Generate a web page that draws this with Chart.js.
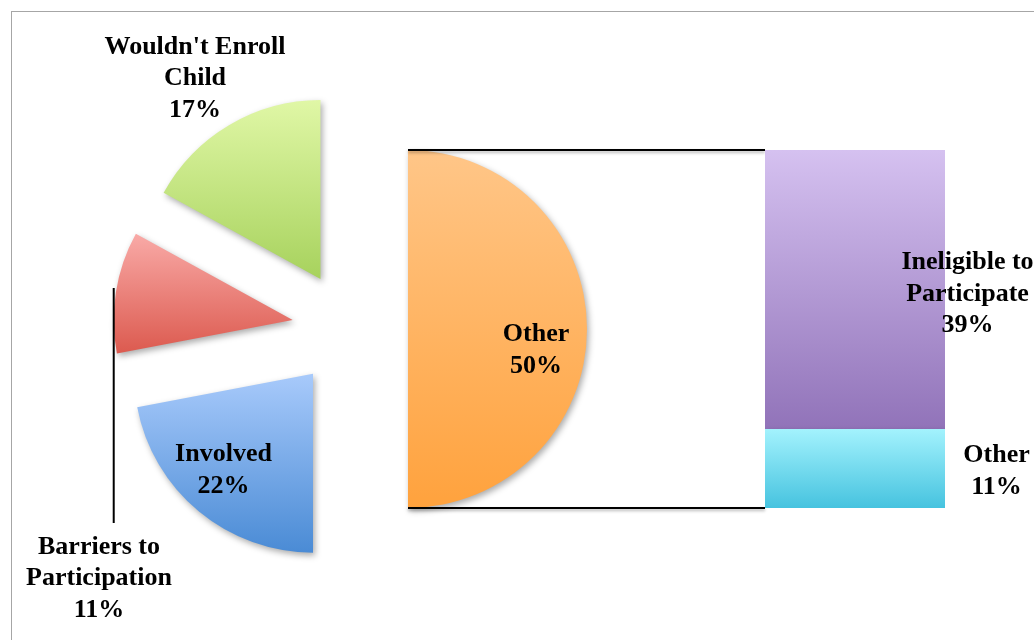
<!DOCTYPE html>
<html>
<head>
<meta charset="utf-8">
<script src="https://cdn.jsdelivr.net/npm/chart.js@4.4.1/dist/chart.umd.min.js"></script>
<style>
  html, body { margin: 0; padding: 0; background: #ffffff; width: 1034px; height: 640px; overflow: hidden; }
  #frame { position: absolute; left: 11px; top: 11px; width: 1100px; height: 700px; border: 1.5px solid #a6a6a6; box-sizing: border-box; }
  canvas { position: absolute; left: 0; top: 0; }
</style>
</head>
<body>
<div id="frame"></div>
<canvas id="pie" width="1034" height="640"></canvas>
<canvas id="bar" width="1034" height="640"></canvas>
<script>
// ---------- data ----------
const pieCategories = ['Other', 'Involved', 'Barriers to Participation', "Wouldn't Enroll Child"];
const pieValues = [50, 22, 11, 17];
const pieLabelLines = [['Other'], ['Involved'], ['Barriers to', 'Participation'], ["Wouldn't Enroll", 'Child']];

const barCategories = ['Other', 'Ineligible to Participate'];
const barValues = [11, 39];
const barLabelLines = [['Other'], ['Ineligible to', 'Participate']];

// ---------- styles / layout ----------
const pieColors = [['#ffc688', '#ffa23d'], ['#a8cafb', '#4a8bd5'], ['#f9aaa7', '#dc5a4f'], ['#e0f7a6', '#a7d25d']];
const barColors = [['#a3f2fd', '#46c3df'], ['#d5c1f0', '#9173b9']];
const EXPLODE = 58;
const PIE_RADIUS = 179;
const FONT = 'bold 26px "Liberation Serif", "Times New Roman", serif';
const LINE_H = 31.5;
// label anchor: centre x, baseline of first line
const pieLabelPos = [[536, 341], [223.5, 461], [99, 553.5], [195, 53.5]];
const barLabelPos = [[996.5, 462], [967.5, 269]];

const sum = a => a.reduce((s, v) => s + v, 0);

function sliceAngles(i) {
  const t = sum(pieValues);
  const s = sum(pieValues.slice(0, i));
  return [s / t * 2 * Math.PI, (s + pieValues[i]) / t * 2 * Math.PI];
}

function pieGradient(c) {
  const i = c.dataIndex, chart = c.chart, ca = chart.chartArea;
  if (!ca) return pieColors[i][1];
  const cy = (ca.top + ca.bottom) / 2;
  if (!isFinite(cy)) return pieColors[i][1];
  const [a0, a1] = sliceAngles(i);
  let ymin = cy, ymax = cy;
  for (let k = 0; k <= 90; k++) {
    const a = a0 + (a1 - a0) * k / 90;
    const y = cy - PIE_RADIUS * Math.cos(a);
    ymin = Math.min(ymin, y); ymax = Math.max(ymax, y);
  }
  const g = chart.ctx.createLinearGradient(0, ymin, 0, ymax);
  g.addColorStop(0, pieColors[i][0]);
  g.addColorStop(1, pieColors[i][1]);
  return g;
}

function barGradient(c) {
  const i = c.datasetIndex, chart = c.chart, ys = chart.scales.y;
  if (!ys) return barColors[i][1];
  const start = sum(barValues.slice(0, i));
  const top = ys.getPixelForValue(start + barValues[i]);
  const bottom = ys.getPixelForValue(start);
  if (!isFinite(top) || !isFinite(bottom)) return barColors[i][1];
  const g = chart.ctx.createLinearGradient(0, top, 0, bottom);
  g.addColorStop(0, barColors[i][0]);
  g.addColorStop(1, barColors[i][1]);
  return g;
}

function explodeShift(el) {
  const half = (el.startAngle + el.endAngle) / 2;
  return [Math.cos(half) * EXPLODE, Math.sin(half) * EXPLODE];
}

function drawLines(ctx, lines, x, y) {
  ctx.save();
  ctx.shadowColor = 'rgba(0,0,0,0)';
  ctx.shadowBlur = 0;
  ctx.shadowOffsetX = 0;
  ctx.shadowOffsetY = 0;
  ctx.font = FONT;
  ctx.fillStyle = '#000';
  ctx.textAlign = 'center';
  ctx.textBaseline = 'alphabetic';
  lines.forEach((t, k) => ctx.fillText(t, x, y + k * LINE_H));
  ctx.restore();
}

const shadowPlugin = {
  id: 'softShadow',
  beforeDatasetsDraw(chart) {
    const ctx = chart.ctx;
    ctx.save();
    ctx.shadowColor = 'rgba(0,0,0,0.33)';
    ctx.shadowBlur = 6;
    ctx.shadowOffsetX = 2;
    ctx.shadowOffsetY = 3;
  },
  afterDatasetsDraw(chart) { chart.ctx.restore(); }
};

const explodePlugin = {
  id: 'explode',
  afterDatasetUpdate(chart, args) {
    chart.getDatasetMeta(args.index).data.forEach(el => {
      if (el._exploded) return;
      const orig = el.draw.bind(el);
      el.draw = function (ctx) {
        const [dx, dy] = explodeShift(this);
        ctx.save();
        ctx.translate(dx, dy);
        orig(ctx);
        ctx.restore();
      };
      el._exploded = true;
    });
  }
};

const pieLabelPlugin = {
  id: 'pieLabels',
  afterDatasetsDraw(chart) {
    const ctx = chart.ctx;
    const meta = chart.getDatasetMeta(0);
    // leader line for the "Barriers" slice
    const el = meta.data[2];
    const [dx, dy] = explodeShift(el);
    const lx = el.x + dx - el.outerRadius;
    ctx.save();
    ctx.shadowColor = 'rgba(0,0,0,0)';
    ctx.strokeStyle = '#000';
    ctx.lineWidth = 2;
    ctx.beginPath();
    ctx.moveTo(lx, 288);
    ctx.lineTo(lx, 523);
    ctx.stroke();
    ctx.restore();
    pieValues.forEach((v, i) => {
      drawLines(ctx, pieLabelLines[i].concat([v + '%']), pieLabelPos[i][0], pieLabelPos[i][1]);
    });
  }
};

const pieChart = new Chart(document.getElementById('pie'), {
  type: 'pie',
  data: {
    labels: pieCategories,
    datasets: [{
      data: pieValues,
      backgroundColor: pieGradient,
      borderWidth: 0
    }]
  },
  options: {
    responsive: false,
    animation: false,
    events: [],
    radius: PIE_RADIUS,
    layout: { padding: { left: 0, right: 334, top: 18, bottom: 0 } },
    plugins: { legend: { display: false }, tooltip: { enabled: false } }
  },
  plugins: [explodePlugin, shadowPlugin, pieLabelPlugin]
});

const connectorPlugin = {
  id: 'connectors',
  beforeDatasetsDraw(chart) {
    const ctx = chart.ctx;
    const arc = pieChart.getDatasetMeta(0).data[0];
    const [dx, dy] = explodeShift(arc);
    const ax = arc.x + dx, ay = arc.y + dy;
    const topBar = chart.getDatasetMeta(1).data[0];
    const botBar = chart.getDatasetMeta(0).data[0];
    const bx = topBar.x - topBar.width / 2;
    ctx.save();
    ctx.strokeStyle = '#000';
    ctx.lineWidth = 2;
    ctx.shadowColor = 'rgba(0,0,0,0.3)';
    ctx.shadowBlur = 3;
    ctx.shadowOffsetX = 0;
    ctx.shadowOffsetY = 2;
    ctx.beginPath();
    ctx.moveTo(ax, ay - arc.outerRadius);
    ctx.lineTo(bx, topBar.y);
    ctx.moveTo(ax, ay + arc.outerRadius);
    ctx.lineTo(bx, botBar.base);
    ctx.stroke();
    ctx.restore();
  },
  afterDatasetsDraw(chart) {
    barValues.forEach((v, i) => {
      drawLines(chart.ctx, barLabelLines[i].concat([v + '%']), barLabelPos[i][0], barLabelPos[i][1]);
    });
  }
};

new Chart(document.getElementById('bar'), {
  type: 'bar',
  data: {
    labels: [pieCategories[0]],
    datasets: barCategories.map((name, i) => ({
      label: name,
      data: [barValues[i]],
      backgroundColor: barGradient,
      borderWidth: 0,
      categoryPercentage: 1,
      barPercentage: 1
    }))
  },
  options: {
    responsive: false,
    animation: false,
    events: [],
    layout: { padding: { left: 765, right: 89, top: 150, bottom: 132 } },
    scales: {
      x: { display: false, stacked: true },
      y: { display: false, stacked: true, min: 0, max: sum(barValues) }
    },
    plugins: { legend: { display: false }, tooltip: { enabled: false } }
  },
  plugins: [shadowPlugin, connectorPlugin]
});
</script>
</body>
</html>
